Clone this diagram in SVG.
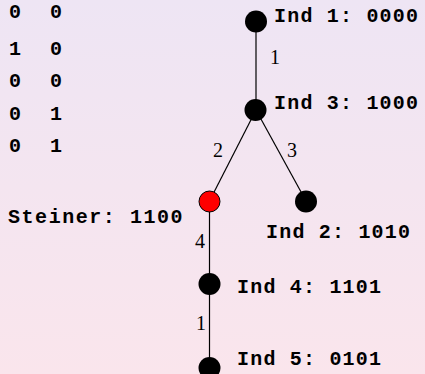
<svg xmlns="http://www.w3.org/2000/svg" width="425" height="374" viewBox="0 0 425 374">
  <defs>
    <linearGradient id="bg" x1="0" y1="0" x2="0" y2="1">
      <stop offset="0" stop-color="#eee5f4"/>
      <stop offset="1" stop-color="#fae5ec"/>
    </linearGradient>
  </defs>
  <style>
    .mono { font-family: "Liberation Mono", "Courier New", monospace; font-weight: bold; font-size: 20px; letter-spacing: 1.2px; fill: #000; }
    .w { font-family: "Liberation Serif", "Times New Roman", serif; font-size: 20px; fill: #000; }
    .edge { stroke: #000; stroke-width: 1.2; fill: none; }
    .node { fill: #000; }
    .steiner { fill: #ff0000; stroke: #000; stroke-width: 1; }
  </style>
  <rect width="425" height="374" fill="url(#bg)"/>

  <!-- bit columns -->
  <g id="bits" class="mono">
    <text x="9" y="18">0</text><text x="50" y="18">0</text>
    <text x="9" y="55">1</text><text x="50" y="55">0</text>
    <text x="9" y="87">0</text><text x="50" y="87">0</text>
    <text x="9" y="120">0</text><text x="50" y="120">1</text>
    <text x="9" y="152">0</text><text x="50" y="152">1</text>
  </g>

  <!-- connectors with weights -->
  <g id="edges">
    <line class="edge" x1="256" y1="21" x2="256" y2="110"/>
    <line class="edge" x1="256" y1="110" x2="209.5" y2="201"/>
    <line class="edge" x1="256" y1="110" x2="306" y2="201"/>
    <line class="edge" x1="209.5" y1="201" x2="209.5" y2="284"/>
    <line class="edge" x1="209.5" y1="284" x2="209.5" y2="368"/>
    <text class="w" x="270" y="64">1</text>
    <text class="w" x="213" y="157">2</text>
    <text class="w" x="287" y="157">3</text>
    <text class="w" x="195" y="248">4</text>
    <text class="w" x="196" y="330">1</text>
  </g>

  <g id="ind1">
    <circle class="node" cx="256" cy="21.5" r="11"/>
    <text class="mono" x="274" y="22">Ind 1: 0000</text>
  </g>
  <g id="ind3">
    <circle class="node" cx="255.5" cy="110" r="11"/>
    <text class="mono" x="274" y="109">Ind 3: 1000</text>
  </g>
  <g id="steiner">
    <circle class="steiner" cx="209.5" cy="201.5" r="10.5"/>
    <text class="mono" x="8" y="223" style="letter-spacing:1.55px">Steiner: 1100</text>
  </g>
  <g id="ind2">
    <circle class="node" cx="306" cy="201.5" r="11"/>
    <text class="mono" x="266" y="238">Ind 2: 1010</text>
  </g>
  <g id="ind4">
    <circle class="node" cx="209.5" cy="284" r="11"/>
    <text class="mono" x="237" y="293">Ind 4: 1101</text>
  </g>
  <g id="ind5">
    <circle class="node" cx="209.5" cy="368" r="11"/>
    <text class="mono" x="237" y="365">Ind 5: 0101</text>
  </g>
</svg>
